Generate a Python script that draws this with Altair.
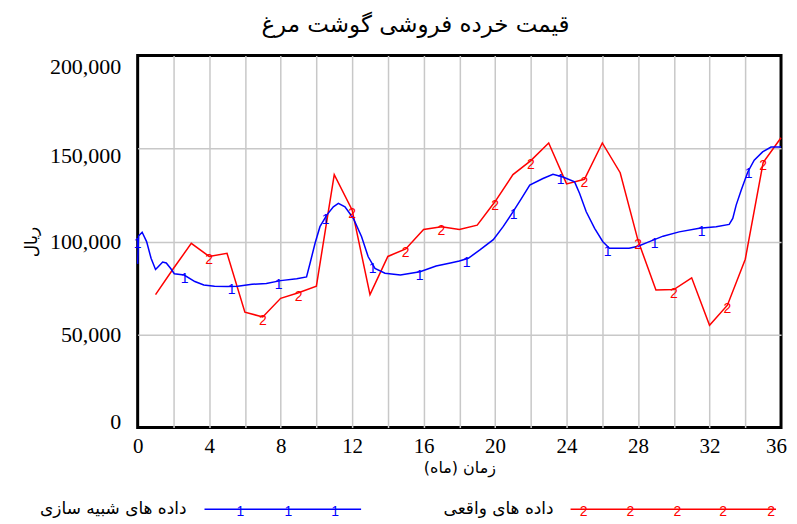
import altair as alt
import pandas as pd

# ---- data ----
real_month = list(range(1, 37))
real_value = [71500, 85500, 99000, 92000, 93700, 62000, 59500, 69500, 72500, 76000,
              136000, 117000, 71500, 92000, 96000, 106500, 108000, 106500, 108800, 121500,
              136000, 143500, 153000, 131000, 133500, 153000, 137000, 100500, 74000, 74200,
              80500, 55000, 65800, 90500, 142500, 155800]

sim_month = [0, 0.05, 0.25, 0.5, 0.75, 1.0, 1.15, 1.4, 1.6, 1.85, 2.05, 2.6, 3.2, 3.7, 4.3,
             5.0, 5.6, 6.4, 7.2, 8.0, 8.9, 9.45, 9.65, 9.93, 10.2, 10.58, 10.95, 11.23, 11.6,
             12.07, 12.53, 12.9, 13.28, 13.84, 14.7, 15.8, 16.7, 17.5, 18.0, 18.5, 19.15, 19.9,
             20.45, 21.0, 21.48, 21.94, 22.68, 23.24, 23.8, 24.45, 24.73, 25.1, 25.57, 26.03,
             26.4, 27.5, 28.0, 28.6, 29.4, 30.3, 31.43, 32.37, 33.1, 33.3, 33.49, 33.77, 34.14,
             34.5, 34.97, 35.44, 36.0]
sim_value = [88000, 103000, 105000, 100000, 91000, 85000, 86500, 89000, 88500, 85500, 82700,
             82000, 78500, 76700, 76000, 75800, 76000, 77000, 77500, 79000, 80000, 81000, 88500,
             99200, 108000, 114200, 118700, 120500, 118700, 112400, 102600, 91800, 85600, 83000,
             82000, 83800, 86900, 88500, 89500, 91000, 95500, 101000, 108000, 116000, 123200,
             130300, 133900, 136200, 134700, 132100, 125800, 116000, 107100, 99900, 96400, 96400,
             97500, 99800, 102900, 105200, 107100, 107900, 109200, 112400, 119600, 127600,
             137400, 143700, 148200, 150800, 150800]

sim_marker_month = [0, 2.63, 5.26, 7.89, 10.52, 13.15, 15.78, 18.41, 21.04, 23.67, 26.3,
                    28.93, 31.56, 34.19]
sim_marker_value = [101000, 82000, 76000, 78800, 113500, 87500, 83800, 90700, 116600, 135000,
                    96500, 100800, 107200, 138300]
real_marker_month = [4, 7, 9, 12, 15, 17, 20, 22, 25, 28, 30, 33, 35]

x_ticks = list(range(0, 37, 2))
y_ticks = [0, 50000, 100000, 150000, 200000]

title_text = "قیمت خرده فروشی گوشت مرغ"
x_title = "زمان (ماه)"
y_title = "ریال"
legend_sim = "داده های شبیه سازی"
legend_real = "داده های واقعی"

BLUE = "#0000ff"
RED = "#ff0000"
AR_FONT = "DejaVu Sans"
NUM_FONT = "Liberation Serif, Times New Roman, serif"

real_df = pd.DataFrame({"month": real_month, "value": real_value})
sim_df = pd.DataFrame({"month": sim_month, "value": sim_value})
sim_mk = pd.DataFrame({"month": sim_marker_month, "value": sim_marker_value})
real_mk = real_df[real_df["month"].isin(real_marker_month)]

x_axis = alt.Axis(values=x_ticks, title=x_title,
                  labelExpr="datum.value % 4 == 0 ? datum.label : ''",
                  labelPadding=8, labelFontSize=21,
                  labelOffset=alt.expr("datum.value == 36 ? -5 : 0"),
                  gridOpacity=alt.expr("datum.value == 0 || datum.value == 36 ? 0 : 1"),
                  titlePadding=3, titleFontSize=16)
y_axis = alt.Axis(values=y_ticks, title=y_title,
                  labelExpr="format(datum.value, ',')",
                  labelPadding=17, labelFontSize=22,
                  labelOffset=alt.expr("datum.value == 200000 ? 11 : datum.value == 150000 ? 7 : datum.value == 0 ? -6 : 0"),
                  gridOpacity=alt.expr("datum.value == 0 || datum.value == 200000 ? 0 : 1"),
                  titlePadding=9, titleFontSize=17)

x_enc = alt.X("month:Q", scale=alt.Scale(domain=[0, 36], nice=False, zero=False), axis=x_axis)
y_enc = alt.Y("value:Q", scale=alt.Scale(domain=[0, 200000], nice=False), axis=y_axis)

real_line = alt.Chart(real_df).mark_line(color=RED, strokeWidth=1.5).encode(x=x_enc, y=y_enc)
sim_line = alt.Chart(sim_df).mark_line(color=BLUE, strokeWidth=1.5).encode(x=x_enc, y=y_enc)

real_marks = alt.Chart(real_mk).mark_text(text="2", color=RED, font="Liberation Sans",
                                          fontSize=14, baseline="middle", dy=4).encode(x=x_enc, y=y_enc)
sim_marks = alt.Chart(sim_mk).mark_text(text="1", color=BLUE, font="Liberation Sans",
                                        fontSize=14, baseline="middle", dy=4).encode(x=x_enc, y=y_enc)

one = alt.Data(values=[{"k": 0}])
LEG_Y = 455
legend_layers = [
    alt.Chart(one).mark_text(text=legend_sim, font=AR_FONT, fontSize=17, align="right",
                             baseline="middle", color="black").encode(x=alt.value(49), y=alt.value(LEG_Y)),
    alt.Chart(one).mark_rule(color=BLUE, strokeWidth=1.5).encode(
        x=alt.value(67), x2=alt.value(224), y=alt.value(LEG_Y)),
    alt.Chart(one).mark_text(text=legend_real, font=AR_FONT, fontSize=17, align="right",
                             baseline="middle", color="black").encode(x=alt.value(417), y=alt.value(LEG_Y)),
    alt.Chart(one).mark_rule(color=RED, strokeWidth=1.5).encode(
        x=alt.value(434), x2=alt.value(640), y=alt.value(LEG_Y)),
]
for px in [103, 151, 198]:
    legend_layers.append(alt.Chart(one).mark_text(text="1", color=BLUE, font="Liberation Sans",
                                                  fontSize=14, baseline="middle", dy=3)
                         .encode(x=alt.value(px), y=alt.value(LEG_Y)))
for px in [447, 494, 541, 587, 635]:
    legend_layers.append(alt.Chart(one).mark_text(text="2", color=RED, font="Liberation Sans",
                                                  fontSize=14, baseline="middle", dy=3)
                         .encode(x=alt.value(px), y=alt.value(LEG_Y)))

chart = alt.layer(real_line, sim_line, real_marks, sim_marks, *legend_layers).properties(
    width=645, height=373,
    title=alt.TitleParams(title_text, font=AR_FONT, fontSize=23, fontWeight="normal",
                          color="black", anchor="middle", dx=-44, offset=19),
    autosize=alt.AutoSizeParams(type="none"),
    padding={"left": 130, "top": 47, "right": 8, "bottom": 90},
    background="white",
).configure_view(stroke="black", strokeWidth=3).configure_axis(
    grid=True, ticks=False, domain=False,
    labelFont=NUM_FONT, labelColor="black", labelFlush=False,
    titleFont=AR_FONT, titleFontWeight="normal", titleColor="black",
    gridColor="#c8c8c8", gridWidth=1.5,
)

chart.save("out.html", embed_options={"renderer": "svg", "actions": False})
